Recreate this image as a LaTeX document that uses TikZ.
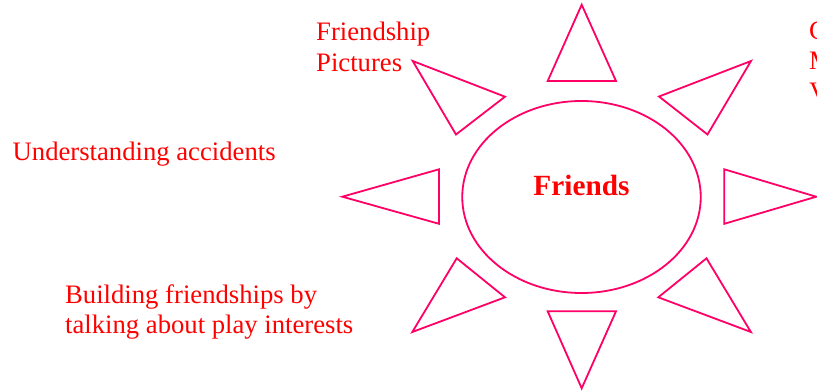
\documentclass[tikz,border=0pt]{standalone}
\usepackage{fontspec}
\setmainfont{Liberation Serif}
\usetikzlibrary{shapes.geometric}
\definecolor{sunline}{RGB}{255,0,102}
\definecolor{labelred}{RGB}{255,0,0}
\tikzset{
  ray/.style={draw=sunline, line width=1.8pt, line join=miter},
  core/.style={ellipse, draw=sunline, line width=1.8pt, inner sep=0pt},
  lbl/.style={text=labelred, inner sep=0pt, anchor=base west, align=left,
    font=\fontsize{26.67}{30.5}\selectfont},
  title/.style={text=labelred, inner sep=0pt, anchor=base,
    font=\fontsize{29.3}{33}\selectfont\bfseries}
}
\begin{document}
\begin{tikzpicture}[x=1pt,y=-1pt]
\useasboundingbox (0,0) rectangle (817,391);
% centre
\node[core, minimum width=238.5pt, minimum height=192pt] (sun) at (581.5,197) {};
\node[title] (friends) at (581.5,195) {Friends};
% rays
\draw[ray] (581.7,4.7) -- (616,81) -- (547.7,81) -- cycle;
\draw[ray] (412.7,61) -- (505,96.7) -- (456,134.5) -- cycle;
\draw[ray] (751,61) -- (659,96.5) -- (707.5,134.5) -- cycle;
\draw[ray] (342.3,196.7) -- (439,169.3) -- (439,223.8) -- cycle;
\draw[ray] (816.2,196.7) -- (724.3,169.3) -- (724.3,223.8) -- cycle;
\draw[ray] (456.7,258.3) -- (505,297.3) -- (412.3,332) -- cycle;
\draw[ray] (706.5,258.3) -- (658.3,297.3) -- (750.9,332) -- cycle;
\draw[ray] (547.7,311.3) -- (616,311.3) -- (581.7,388.3) -- cycle;
% labels (base anchor = baseline of last line)
\node[lbl] (pictures) at (316,71) {Friendship\\Pictures};
\node[lbl] (accidents) at (12.5,160) {Understanding accidents};
\node[lbl] (building) at (65,333.6) {Building friendships by\\talking about play interests};
\node[lbl] (cut) at (809,100) {C\\M\\V};
\end{tikzpicture}
\end{document}
